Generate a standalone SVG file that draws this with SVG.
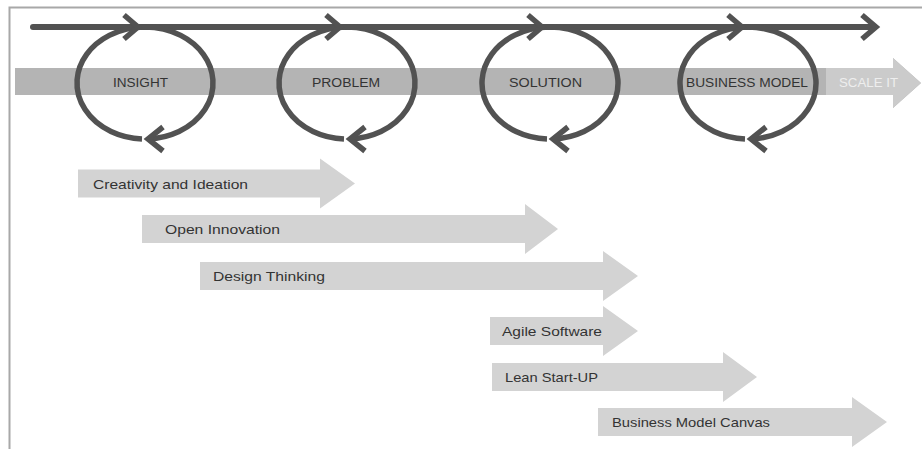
<svg xmlns="http://www.w3.org/2000/svg" width="922" height="449" viewBox="0 0 922 449">
  <style>
    .frame { fill: none; stroke: #a8a8a8; stroke-width: 2; }
    .band { fill: #b4b4b4; }
    .band-light { fill: #cbcbcb; }
    .phase { fill: #d3d3d3; }
    .flow { fill: none; stroke: #525252; stroke-width: 6; stroke-linecap: round; }
    .ring { fill: none; stroke: #525252; stroke-width: 5.5; }
    .chev { fill: none; stroke: #525252; stroke-width: 5.5; stroke-linejoin: miter; stroke-linecap: butt; }
    .stage { font-family: "Liberation Sans", Arial, sans-serif; font-size: 12px; fill: #333333; }
    .stage-light { font-family: "Liberation Sans", Arial, sans-serif; font-size: 12px; fill: #eeeeee; }
    .label { font-family: "Liberation Sans", Arial, sans-serif; font-size: 13px; fill: #333333; }
  </style>

  <rect width="922" height="449" fill="#ffffff"/>
  <path class="frame" d="M9.5,449 V7.5 H922"/>

  <!-- main stage band ending in a broad arrow -->
  <g id="stage-band">
    <polygon class="band" points="15,68 893,68 893,58 921,83 893,108 893,95 15,95"/>
    <polygon class="band-light" points="826,68 893,68 893,58 921,83 893,108 893,95 826,95"/>
  </g>

  <!-- iteration flow: top line and the loops around each stage -->
  <g id="connectors">
    <line class="flow" x1="33" y1="27" x2="873" y2="27"/>
    <polyline class="chev" points="862,15 876,27 862,39"/>

    <!-- loop around INSIGHT -->
    <path class="ring" d="M148,139 A68,56 0 1 0 142,139"/>
    <polyline class="chev" points="124,15 138,27 124,39"/>
    <polyline class="chev" points="163,127 148,139 163,151"/>

    <!-- loop around PROBLEM -->
    <path class="ring" d="M350,139 A68,56 0 1 0 344,139"/>
    <polyline class="chev" points="326,15 340,27 326,39"/>
    <polyline class="chev" points="365,127 350,139 365,151"/>

    <!-- loop around SOLUTION -->
    <path class="ring" d="M553,139 A68,56 0 1 0 547,139"/>
    <polyline class="chev" points="528,15 542,27 528,39"/>
    <polyline class="chev" points="568,127 553,139 568,151"/>

    <!-- loop around BUSINESS MODEL -->
    <path class="ring" d="M751,139 A68,56 0 1 0 745,139"/>
    <polyline class="chev" points="728,15 742,27 728,39"/>
    <polyline class="chev" points="766,127 751,139 766,151"/>
  </g>

  <!-- stage labels -->
  <g id="stage-insight"><text class="stage" x="113" y="87" textLength="55" lengthAdjust="spacingAndGlyphs">INSIGHT</text></g>
  <g id="stage-problem"><text class="stage" x="312" y="87" textLength="68" lengthAdjust="spacingAndGlyphs">PROBLEM</text></g>
  <g id="stage-solution"><text class="stage" x="509" y="87" textLength="73" lengthAdjust="spacingAndGlyphs">SOLUTION</text></g>
  <g id="stage-business-model"><text class="stage" x="686" y="87" textLength="122" lengthAdjust="spacingAndGlyphs">BUSINESS MODEL</text></g>
  <g id="stage-scale-it"><text class="stage-light" x="839" y="87" textLength="59" lengthAdjust="spacingAndGlyphs">SCALE IT</text></g>

  <!-- method spans -->
  <g id="creativity-ideation">
    <polygon class="phase" points="78,169.5 320,169.5 320,158.5 355,183.5 320,208.5 320,197.5 78,197.5"/>
    <text class="label" x="93" y="188.5" textLength="155" lengthAdjust="spacingAndGlyphs">Creativity and Ideation</text>
  </g>
  <g id="open-innovation">
    <polygon class="phase" points="142,215 525,215 525,204 558,229 525,254 525,243 142,243"/>
    <text class="label" x="165" y="234" textLength="115" lengthAdjust="spacingAndGlyphs">Open Innovation</text>
  </g>
  <g id="design-thinking">
    <polygon class="phase" points="200,262 603,262 603,251 638,276 603,301 603,290 200,290"/>
    <text class="label" x="213" y="281" textLength="112" lengthAdjust="spacingAndGlyphs">Design Thinking</text>
  </g>
  <g id="agile-software">
    <polygon class="phase" points="490,317 603,317 603,306 638,331 603,356 603,345 490,345"/>
    <text class="label" x="502" y="336" textLength="100" lengthAdjust="spacingAndGlyphs">Agile Software</text>
  </g>
  <g id="lean-startup">
    <polygon class="phase" points="492,363 723,363 723,352 757,377 723,402 723,391 492,391"/>
    <text class="label" x="505" y="382" textLength="93" lengthAdjust="spacingAndGlyphs">Lean Start-UP</text>
  </g>
  <g id="business-model-canvas">
    <polygon class="phase" points="598,408 852,408 852,397 887,422 852,447 852,436 598,436"/>
    <text class="label" x="612" y="427" textLength="158" lengthAdjust="spacingAndGlyphs">Business Model Canvas</text>
  </g>
</svg>
